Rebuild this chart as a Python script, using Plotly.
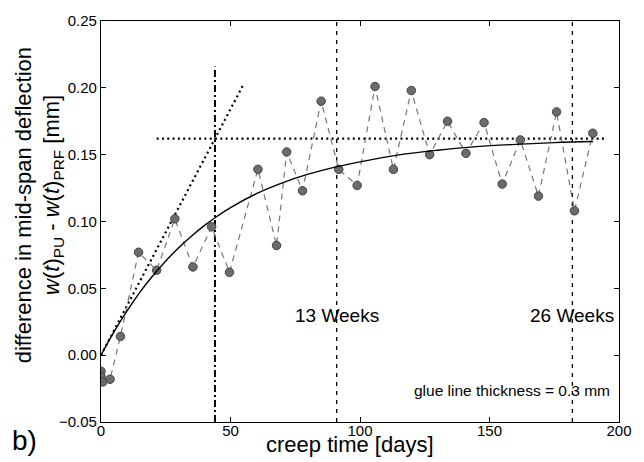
import plotly.graph_objects as go

# measured data: creep time [days] vs deflection difference [mm]
days = [0, 0, 0.7, 3.5, 7.5, 14.5, 21.5, 28.5, 35.5, 42.7, 49.6, 60.6, 67.8, 71.7,
        77.8, 85.0, 91.8, 98.9, 105.8, 112.9, 119.8, 126.9, 133.8, 140.9, 147.9,
        154.9, 161.9, 168.9, 175.9, 182.8, 189.9]
diff = [-0.012, -0.016, -0.020, -0.018, 0.014, 0.077, 0.0635, 0.102, 0.066, 0.096,
        0.062, 0.139, 0.082, 0.152, 0.123, 0.190, 0.139, 0.127, 0.201, 0.139, 0.198,
        0.150, 0.175, 0.151, 0.174, 0.128, 0.161, 0.119, 0.182, 0.108, 0.166]

# fitted curve
fit_t = [0, 5, 10, 15, 20, 25, 30, 35, 40, 45, 50, 60, 70, 80, 90, 100, 115, 130,
         145, 160, 175, 190]
fit_v = [0, 0.0174, 0.0330, 0.0470, 0.0594, 0.0705, 0.0804, 0.0892, 0.0971, 0.1041,
         0.1104, 0.1208, 0.1289, 0.1354, 0.1405, 0.1446, 0.1498, 0.1533, 0.1560,
         0.1577, 0.1590, 0.1598]

# construction lines
tangent_t = [0, 55]
tangent_v = [0, 0.2025]
asym_t = [21.5, 195]
asym_v = [0.162, 0.162]
tau_t = [44, 44]
tau_v = [-0.05, 0.216]
week13_t = [91, 91]
week26_t = [182, 182]
full_v = [-0.05, 0.25]

xticks = [0, 50, 100, 150, 200]
yticks = [-0.05, 0.0, 0.05, 0.10, 0.15, 0.20, 0.25]
yticktext = ["\u22120.05", "0.00", "0.05", "0.10", "0.15", "0.20", "0.25"]

FONT = "Liberation Sans"

fig = go.Figure()
fig.add_trace(go.Scatter(x=week13_t, y=full_v, mode="lines",
                         line=dict(color="black", width=1.3, dash="4px,5px")))
fig.add_trace(go.Scatter(x=week26_t, y=full_v, mode="lines",
                         line=dict(color="black", width=1.3, dash="4px,5px")))
fig.add_trace(go.Scatter(x=tau_t, y=tau_v, mode="lines",
                         line=dict(color="black", width=2, dash="7px,3px,2px,3px")))
fig.add_trace(go.Scatter(x=tangent_t, y=tangent_v, mode="lines",
                         line=dict(color="black", width=2.2, dash="2px,3.3px")))
fig.add_trace(go.Scatter(x=asym_t, y=asym_v, mode="lines",
                         line=dict(color="black", width=2.2, dash="2px,3.3px")))
fig.add_trace(go.Scatter(x=days, y=diff, mode="lines+markers",
                         line=dict(color="#777777", width=1.2, dash="6px,5px"),
                         marker=dict(size=8.5, color="#6b6b6b",
                                     line=dict(color="#444444", width=1))))
fig.add_trace(go.Scatter(x=fit_t, y=fit_v, mode="lines", line_shape="spline",
                         line=dict(color="black", width=1.4)))

L, R, T, B = 101, 15, 14, 40
W, H = 644, 462
pw, ph = W - L - R, H - T - B


def px(x):
    return (x - L) / pw


def py(y):
    return (H - B - y) / ph


annotations = [
    dict(x=91, y=0.0294, xref="x", yref="y", text="13 Weeks", showarrow=False,
         font=dict(size=19, family=FONT, color="black"), xanchor="center", yanchor="middle"),
    dict(x=182, y=0.0294, xref="x", yref="y", text="26 Weeks", showarrow=False,
         font=dict(size=19, family=FONT, color="black"), xanchor="center", yanchor="middle"),
    dict(x=158.5, y=-0.0265, xref="x", yref="y", text="glue line thickness = 0.3 mm",
         showarrow=False, font=dict(size=15.5, family=FONT, color="black"),
         xanchor="center", yanchor="middle"),
    dict(x=px(355), y=py(445), xref="paper", yref="paper", text="creep time [days]",
         showarrow=False, font=dict(size=22, family=FONT, color="black"),
         xanchor="center", yanchor="middle"),
    dict(x=px(22), y=py(201), xref="paper", yref="paper",
         text="difference in mid-span deflection", textangle=-90,
         showarrow=False, font=dict(size=22, family=FONT, color="black"),
         xanchor="center", yanchor="middle"),
    dict(x=px(52), y=py(191), xref="paper", yref="paper",
         text="<i>w</i>(<i>t</i>)<sub>PU</sub> - <i>w</i>(<i>t</i>)<sub>PRF</sub> [mm]",
         textangle=-90, showarrow=False, font=dict(size=22, family=FONT, color="black"),
         xanchor="center", yanchor="middle"),
    dict(x=px(23), y=py(441), xref="paper", yref="paper", text="b)",
         showarrow=False, font=dict(size=28, family=FONT, color="black"),
         xanchor="center", yanchor="middle"),
]

fig.update_layout(
    width=W, height=H,
    margin=dict(l=L, r=R, t=T, b=B),
    paper_bgcolor="white", plot_bgcolor="white",
    showlegend=False,
    font=dict(family=FONT, color="black"),
    annotations=annotations,
)
fig.update_xaxes(range=[0, 200], tickvals=xticks, ticks="inside", ticklen=5,
                 tickcolor="black", showline=True, linecolor="black", linewidth=1.2,
                 mirror="ticks", showgrid=False, zeroline=False, ticklabelstandoff=-5,
                 tickfont=dict(size=15, family=FONT, color="black"))
fig.update_yaxes(range=[-0.05, 0.25], tickvals=yticks, ticktext=yticktext,
                 ticks="inside", ticklen=5, tickcolor="black", showline=True,
                 linecolor="black", linewidth=1.2, mirror="ticks", showgrid=False,
                 zeroline=False, tickfont=dict(size=15, family=FONT, color="black"))

fig.write_html("out.html")
